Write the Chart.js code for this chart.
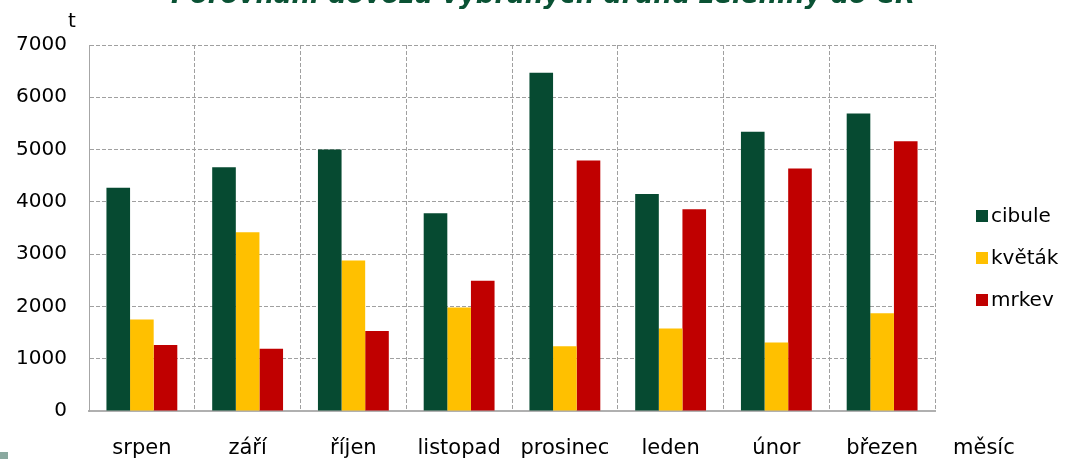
<!DOCTYPE html>
<html>
<head>
<meta charset="utf-8">
<script src="https://cdn.jsdelivr.net/npm/chart.js@4/dist/chart.umd.min.js"></script>
<style>
  html, body { margin: 0; padding: 0; background: #fff; }
  canvas { display: block; }
</style>
</head>
<body>
<canvas id="chart" width="1066" height="459"></canvas>
<script>
const months = ["srpen", "září", "říjen", "listopad", "prosinec", "leden", "únor", "březen"];
const cibule = [4270, 4660, 5000, 3780, 6470, 4150, 5340, 5690];
const kvetak = [1750, 3420, 2880, 1980, 1240, 1580, 1310, 1870];
const mrkev = [1260, 1190, 1530, 2490, 4790, 3860, 4640, 5160];
const yTicks = [0, 1000, 2000, 3000, 4000, 5000, 6000, 7000];

const titleText = "Porovnání dovozu vybraných druhů zeleniny do ČR";
const yTitle = "t";
const xTitle = "měsíc";

const font = "'DejaVu Sans', Verdana, sans-serif";

// title, axis titles and legend are drawn by hand to sit where the original has them
const decor = {
  id: "decor",
  afterDraw(chart) {
    const ctx = chart.ctx;
    ctx.save();
    ctx.fillStyle = "#0a5234";
    ctx.font = "italic bold 26px " + font;
    ctx.textAlign = "center";
    ctx.textBaseline = "alphabetic";
    ctx.fillText(titleText, 543, 3);

    ctx.fillStyle = "#000";
    ctx.font = "20px " + font;
    ctx.fillText(yTitle, 72, 27);

    ctx.font = "21px " + font;
    ctx.textAlign = "left";
    ctx.fillText(xTitle, 953, 454);

    // legend
    ctx.font = "20px " + font;
    ctx.textBaseline = "middle";
    chart.data.datasets.forEach((ds, i) => {
      const y = 216 + i * 42;
      ctx.fillStyle = ds.backgroundColor;
      ctx.fillRect(976, y - 6, 12, 12);
      ctx.fillStyle = "#000";
      ctx.fillText(ds.label, 991, y + 1);
    });

    ctx.fillStyle = "#8aa9a0";
    ctx.fillRect(0, 452, 8, 7);
    ctx.restore();
  },
};

new Chart(document.getElementById("chart"), {
  type: "bar",
  data: {
    labels: months,
    datasets: [
      { label: "cibule", data: cibule, backgroundColor: "#064a31" },
      { label: "květák", data: kvetak, backgroundColor: "#ffc000" },
      { label: "mrkev", data: mrkev, backgroundColor: "#c00000" },
    ],
  },
  options: {
    responsive: false,
    animation: false,
    devicePixelRatio: 1,
    layout: { padding: { top: 45, right: 131, bottom: 0, left: 0 } },
    datasets: {
      bar: { categoryPercentage: 0.67, barPercentage: 1, borderWidth: 0 },
    },
    scales: {
      x: {
        grid: { color: "#a0a0a0", drawTicks: false, offset: true },
        border: { color: "#b0b0b0", width: 2, dash: [4, 2] },
        ticks: { color: "#000", font: { family: font, size: 21 }, padding: 25, maxRotation: 0, autoSkip: false },
        afterFit: (s) => { s.height = 48; },
      },
      y: {
        min: 0,
        max: 7000,
        afterBuildTicks: (s) => { s.ticks = yTicks.map((v) => ({ value: v })); },
        grid: { color: "#a0a0a0", drawTicks: false },
        border: { color: "#a6a6a6", width: 1, dash: [4, 2] },
        ticks: { color: "#000", font: { family: font, size: 20 }, padding: 22, callback: (v) => String(v) },
        afterFit: (s) => { s.width = 89; },
      },
    },
    plugins: {
      legend: { display: false },
      tooltip: { enabled: false },
    },
  },
  plugins: [decor],
});
</script>
</body>
</html>
